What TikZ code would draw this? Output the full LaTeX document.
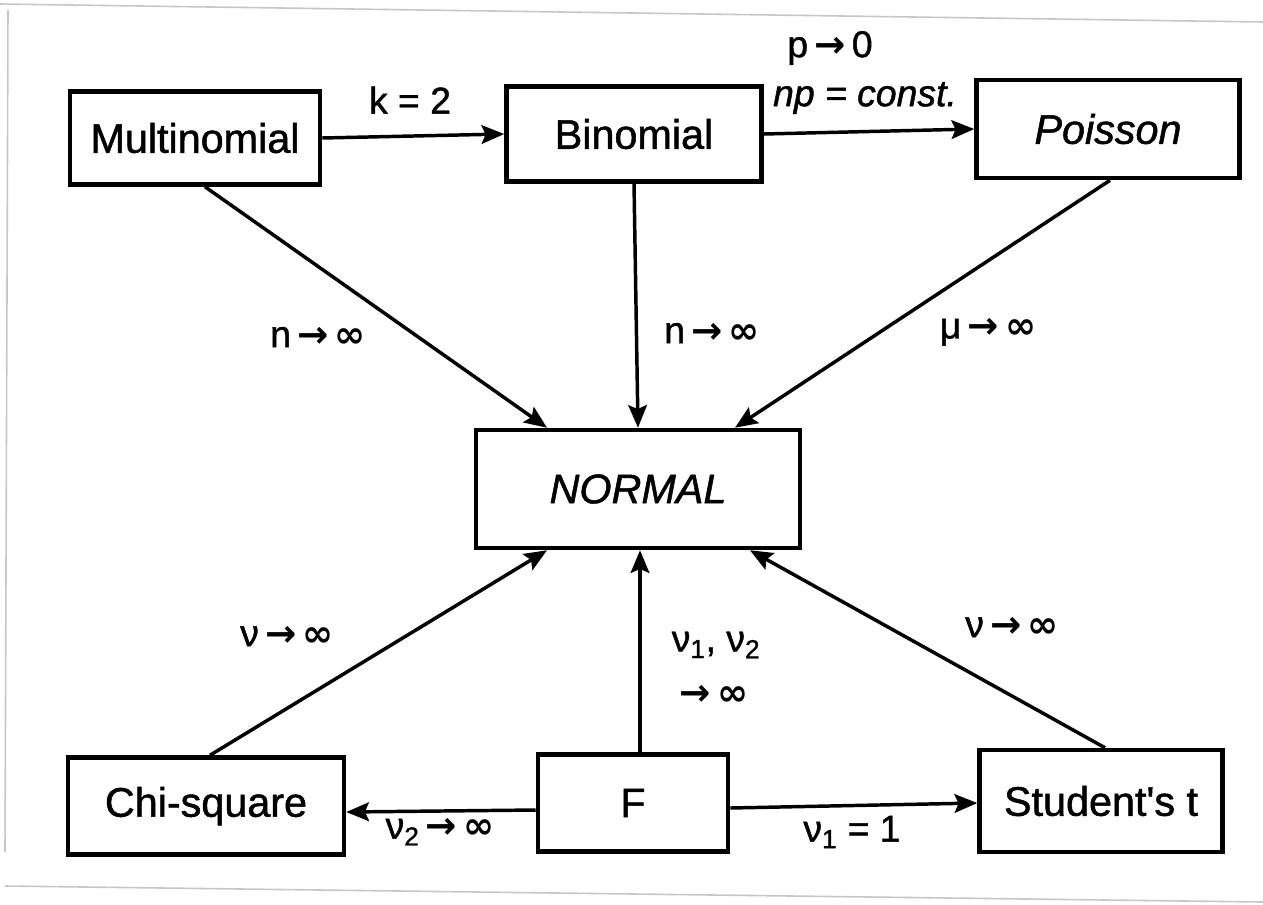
\documentclass[tikz,border=0pt]{standalone}
\usepackage{fontspec}
\setmainfont[FakeBold=1.2]{Liberation Sans}
\newfontfamily\symfont{DejaVu Sans Bold}
\newcommand\tends{\,{\symfont →}\,}
\newcommand\infy{{\symfont ∞}}
\newcommand\sq{{\addfontfeature{Ligatures=TeXOff}'}}
\usetikzlibrary{arrows.meta,calc}
\begin{document}
\begin{tikzpicture}[x=0.75pt,y=-0.75pt,
  dist/.style={draw,line width=3.4pt,inner sep=0pt,font=\fontsize{31}{36}\selectfont},
  arr/.style={line width=2.6pt,-{Stealth[length=17pt,width=14pt,inset=3pt]}},
  lbl/.style={font=\fontsize{28}{34}\selectfont,inner sep=0pt},
  edge/.style={draw=black!22,line width=1.2pt}]
\useasboundingbox (0,0) rectangle (1263,904);
% paper edges
\draw[edge] (0,4) -- (1263,22);
\draw[edge] (8,10) -- (5,852);
\draw[edge] (5,886) -- (1263,902);
% distributions
\node[dist,minimum width=250*0.75pt,minimum height=93*0.75pt] (mult) at (195,138) {Multinomial};
\node[dist,minimum width=255*0.75pt,minimum height=95*0.75pt] (bin) at (634,134) {Binomial};
\node[dist,minimum width=263*0.75pt,minimum height=98*0.75pt] (pois) at (1108,129) {\itshape Poisson};
\node[dist,minimum width=324*0.75pt,minimum height=118*0.75pt] (norm) at (638,489) {\itshape NORMAL};
\node[dist,minimum width=276*0.75pt,minimum height=97*0.75pt] (chi) at (206,806) {Chi-square};
\node[dist,minimum width=190*0.75pt,minimum height=97*0.75pt] (f) at (633,803) {F};
\node[dist,minimum width=243*0.75pt,minimum height=102*0.75pt] (stud) at (1101,801) {Student\sq s t};
% limiting relations
\draw[arr] (mult.east) -- (bin.west);
\draw[arr] (bin.east) -- (pois.west);
\draw[arr] ($(mult.south)+(10,0)$) -- ($(norm.north)+(-91,0)$);
\draw[arr] (bin.south) -- ($(norm.north)+(0,0)$);
\draw[arr] ($(pois.south)+(2,0)$) -- ($(norm.north)+(97,0)$);
\draw[arr] ($(chi.north)+(4,0)$) -- ($(norm.south)+(-91,0)$);
\draw[arr] ($(f.north)+(7,0)$) -- ($(norm.south)+(2,0)$);
\draw[arr] ($(stud.north)+(4,0)$) -- ($(norm.south)+(112,0)$);
\draw[arr] ($(f.west)+(0,7)$) -- ($(chi.east)+(0,6)$);
\draw[arr] ($(f.east)+(0,5)$) -- ($(stud.west)+(0,2)$);
% conditions
\node[lbl] (l1) at (410,100) {k = 2};
\node[lbl] (l2) at (830,48) {p\tends 0};
\node[lbl] (l3) at (865,98) {\itshape np = const.};
\node[lbl] (l4) at (318,337) {n\tends\infy};
\node[lbl] (l5) at (712,333) {n\tends\infy};
\node[lbl] (l6) at (988,332) {μ\tends\infy};
\node[lbl] (l7) at (287,636) {ν\tends\infy};
\node[lbl] (l8) at (716,645) {ν\textsubscript{1}, ν\textsubscript{2}};
\node[lbl] (l9) at (714,695) {{\symfont →}\,\infy};
\node[lbl] (l10) at (1012,627) {ν\tends\infy};
\node[lbl] (l11) at (440,832) {ν\textsubscript{2}\tends\infy};
\node[lbl] (l12) at (852,832) {ν\textsubscript{1} = 1};
\end{tikzpicture}
\end{document}
